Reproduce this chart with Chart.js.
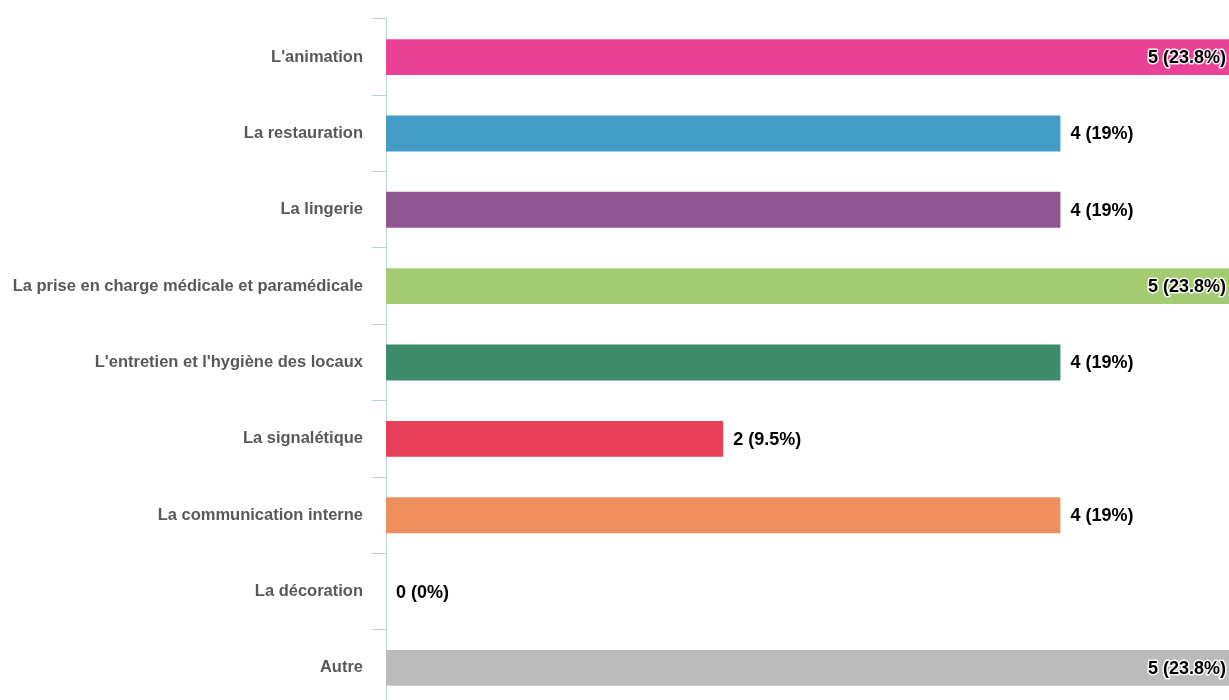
<!DOCTYPE html>
<html>
<head>
<meta charset="utf-8">
<script src="https://cdn.jsdelivr.net/npm/chart.js@4"></script>
<style>
  html, body { margin: 0; padding: 0; background: #fff; overflow: hidden; }
  #wrap { width: 1229px; height: 725px; position: relative; }
</style>
</head>
<body>
<div id="wrap"><canvas id="grafico"></canvas></div>
<script>
var categorias = ["L'animation", "La restauration", "La lingerie", "La prise en charge médicale et paramédicale",
    "L'entretien et l'hygiène des locaux", "La signalétique", "La communication interne", "La décoration", "Autre"];
var valores = [5, 4, 4, 5, 4, 2, 4, 0, 5];
var porcentajes = ["23.8%", "19%", "19%", "23.8%", "19%", "9.5%", "19%", "0%", "23.8%"];
var colores = ['rgb(232, 65, 150)', 'rgb(67, 157, 199)', 'rgb(143, 86, 146)', 'rgb(163, 203, 114)',
    'rgb(62, 139, 107)', 'rgb(230, 63, 87)', 'rgb(240, 143, 94)', 'rgb(120, 120, 200)', 'rgb(187, 187, 187)'];

var colorEje = 'rgb(190, 205, 226)';
var fuente = '"Liberation Sans", Arial, sans-serif';

// etiquetas de valor al final de cada barra
var etiquetasValor = {
    id: 'etiquetasValor',
    afterDatasetsDraw: function (chart) {
        var ctx = chart.ctx;
        var meta = chart.getDatasetMeta(0);
        var area = chart.chartArea;
        ctx.save();
        ctx.font = 'bold 18px ' + fuente;
        ctx.textBaseline = 'middle';
        meta.data.forEach(function (barra, i) {
            var texto = valores[i] + ' (' + porcentajes[i] + ')';
            var w = ctx.measureText(texto).width;
            var x = barra.x + 10;
            if (x + w > area.right) {
                ctx.textAlign = 'right';
                x = area.right - 3;
                ctx.lineWidth = 3;
                ctx.strokeStyle = 'rgba(255,255,255,0.9)';
                ctx.lineJoin = 'round';
                ctx.strokeText(texto, x, barra.y + 1);
            } else {
                ctx.textAlign = 'left';
            }
            ctx.fillStyle = '#000';
            ctx.fillText(texto, x, barra.y + 1);
        });
        ctx.restore();
    }
};

var datos = {
    labels: categorias,
    datasets: [{
        data: valores,
        backgroundColor: colores,
        borderWidth: 0,
        categoryPercentage: 1,
        barPercentage: 0.47
    }]
};

var opciones = {
    indexAxis: 'y',
    responsive: true,
    maintainAspectRatio: false,
    animation: false,
    layout: { padding: { top: 16, right: 0, bottom: 0, left: 0 } },
    plugins: {
        legend: { display: false },
        tooltip: { enabled: false }
    },
    scales: {
        x: {
            display: false,
            min: 0,
            max: 5
        },
        y: {
            afterFit: function (scale) { scale.width = 386; },
            border: { display: true, color: colorEje, width: 1 },
            grid: {
                offset: true,
                drawOnChartArea: false,
                drawTicks: true,
                tickLength: 14,
                color: colorEje
            },
            ticks: {
                padding: 9,
                color: 'rgb(89, 89, 89)',
                font: { family: fuente, size: 16.5, weight: 'bold' }
            }
        }
    }
};

var ctx = document.getElementById('grafico');
var grafico = new Chart(ctx, {
    type: 'bar',
    data: datos,
    options: opciones,
    plugins: [etiquetasValor]
});
</script>
</body>
</html>
